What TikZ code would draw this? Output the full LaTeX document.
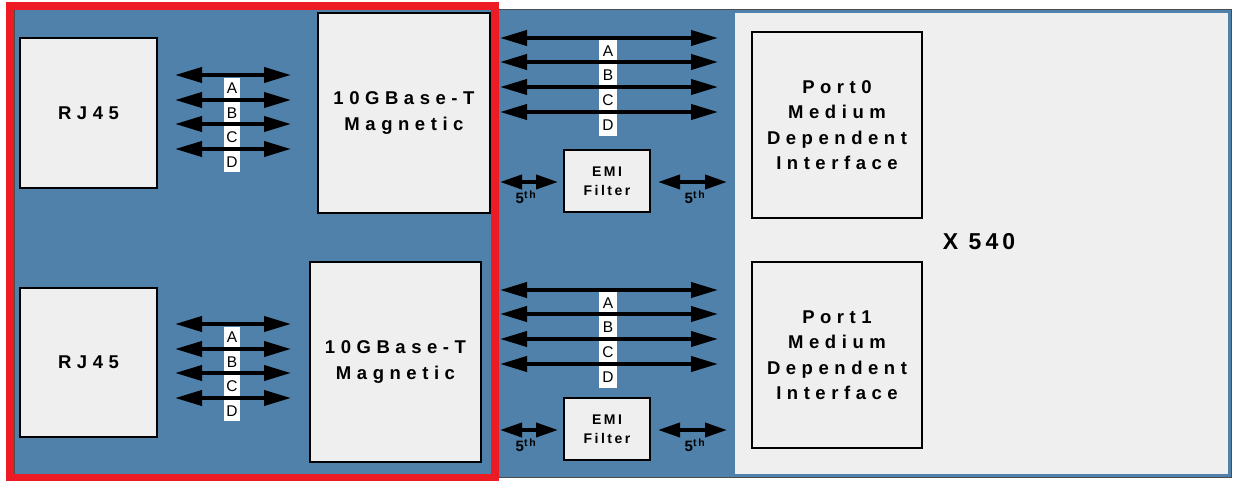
\documentclass[tikz,border=0pt]{standalone}
\usepackage{fontspec}
\setmainfont{Liberation Sans}
\newfontfamily\spfont[LetterSpace=30]{Liberation Sans}
\newfontfamily\smfont[LetterSpace=18]{Liberation Sans}
\usetikzlibrary{arrows.meta}
\definecolor{bgblue}{RGB}{79,129,171}
\definecolor{boxgray}{RGB}{238,239,238}
\definecolor{redframe}{RGB}{237,28,36}
\tikzset{
  blk/.style={draw=black, line width=2.5pt, fill=boxgray, align=center, inner sep=0pt,
    font=\spfont\bfseries\fontsize{18.5}{25.5}\selectfont},
  emibox/.style={blk, font=\smfont\bfseries\fontsize{14}{19}\selectfont},
  bus/.style={line width=3.8pt, {Triangle[length=27pt,width=15pt]}-{Triangle[length=27pt,width=15pt]}},
  fifth/.style={line width=3.8pt, {Triangle[length=22pt,width=14pt]}-{Triangle[length=22pt,width=14pt]}},
  lett/.style={font=\fontsize{15.5}{15.5}\selectfont, inner sep=0pt},
  fthlab/.style={font=\smfont\bfseries\fontsize{15}{15}\selectfont, inner sep=0pt},
}
\begin{document}
\begin{tikzpicture}[x=1pt,y=-1pt]
\useasboundingbox (0,0) rectangle (1233,481);
% background regions
\fill[white] (0,0) rectangle (1233,481);
\draw[fill=bgblue, draw=black!70, line width=1pt] (14,10) rectangle (1231,477);
\fill[boxgray] (735,13) rectangle (1228,474);

% boxes
\node[blk, minimum width=137pt, minimum height=150pt] (rj0) at (88.5,113) {RJ45};
\node[blk, minimum width=137pt, minimum height=149pt] (rj1) at (88.5,362.5) {RJ45};
\node[blk, minimum width=172pt, minimum height=200pt] (mag0) at (404,113) {10GBase-T\\Magnetic};
\node[blk, minimum width=171pt, minimum height=200pt] (mag1) at (395.5,362) {10GBase-T\\Magnetic};
\node[blk, minimum width=170pt, minimum height=186pt] (p0) at (837,125) {Port0\\Medium\\Dependent\\Interface};
\node[blk, minimum width=170pt, minimum height=186pt] (p1) at (837,355) {Port1\\Medium\\Dependent\\Interface};
\node[emibox, minimum width=86pt, minimum height=62pt] (emi0) at (607,181) {EMI\\Filter};
\node[emibox, minimum width=86pt, minimum height=62pt] (emi1) at (607,429) {EMI\\Filter};
\node[font=\smfont\bfseries\fontsize{23}{23}\selectfont] (x540) at (979,242) {X 540};

% left bus groups
\foreach \dy/\g in {0/a,249/b}{
  \fill[white] (224,78+\dy) rectangle (240,172+\dy);
  \foreach \y/\l [count=\i] in {75/A,100/B,124/C,149/D}{
    \coordinate (l\g\i w) at (175,\y+\dy);
    \coordinate (l\g\i e) at (291,\y+\dy);
    \draw[bus] (l\g\i w) -- (l\g\i e);
    \node[lett] (ll\g\i) at (232,\y+13+\dy) {\l};
  }
}
% right bus groups
\foreach \dy/\g in {0/a,252/b}{
  \fill[white] (599,40+\dy) rectangle (617,136+\dy);
  \foreach \y/\l [count=\i] in {38/A,62/B,87/C,112/D}{
    \coordinate (r\g\i w) at (500,\y+\dy);
    \coordinate (r\g\i e) at (718,\y+\dy);
    \draw[bus] (r\g\i w) -- (r\g\i e);
    \node[lett] (rl\g\i) at (608,\y+13+\dy) {\l};
  }
}
% fifth pair arrows
\foreach \dy/\g in {0/a,248/b}{
  \coordinate (f\g1) at (500,182+\dy);
  \coordinate (f\g2) at (558,182+\dy);
  \coordinate (f\g3) at (658,182+\dy);
  \coordinate (f\g4) at (727,182+\dy);
  \draw[fifth] (f\g1) -- (f\g2);
  \draw[fifth] (f\g3) -- (f\g4);
  \node[fthlab] (t\g1) at (526,197+\dy) {5\textsuperscript{th}};
  \node[fthlab] (t\g2) at (695,197+\dy) {5\textsuperscript{th}};
}

% red frame
\draw[redframe, line width=8pt] (10,6) rectangle (495,478);
\end{tikzpicture}
\end{document}
